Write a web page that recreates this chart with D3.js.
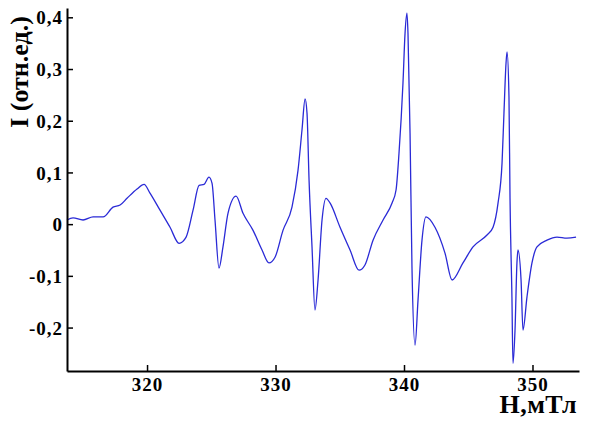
<!DOCTYPE html>
<html><head><meta charset="utf-8">
<script src="https://cdn.jsdelivr.net/npm/d3@7"></script>
<style>body{margin:0;background:#fff}svg{display:block}</style>
</head><body>
<script>
const fieldH = [313.77,314.24,315.02,315.80,316.58,317.35,317.90,318.44,319.22,319.77,320.23,321.01,321.79,322.49,323.04,323.58,324.05,324.44,324.82,325.06,325.29,325.60,325.91,326.30,326.93,327.47,328.25,328.95,329.49,329.96,330.58,331.28,331.75,332.06,332.30,332.45,332.61,332.84,333.07,333.31,333.62,333.93,334.24,335.02,335.80,336.50,336.96,337.59,338.37,339.07,339.38,339.61,339.92,340.08,340.23,340.31,340.47,340.62,340.86,341.09,341.40,341.71,342.41,343.19,343.74,344.59,345.37,346.46,346.93,347.32,347.63,347.78,347.94,348.02,348.17,348.25,348.40,348.48,348.64,348.79,348.87,349.11,349.26,349.57,349.96,350.35,351.13,351.91,352.68,353.39];
const intensity = [0.008,0.012,0.008,0.014,0.014,0.033,0.037,0.050,0.068,0.077,0.060,0.027,-0.006,-0.037,-0.025,0.027,0.075,0.077,0.091,0.079,0.008,-0.085,-0.044,0.021,0.054,0.021,-0.012,-0.050,-0.075,-0.064,-0.012,0.033,0.104,0.182,0.242,0.215,0.085,-0.044,-0.166,-0.108,0.008,0.050,0.041,-0.006,-0.050,-0.089,-0.079,-0.031,0.008,0.041,0.066,0.137,0.273,0.369,0.408,0.369,0.176,-0.083,-0.234,-0.147,-0.031,0.014,-0.006,-0.056,-0.108,-0.075,-0.044,-0.021,-0.006,0.041,0.118,0.215,0.311,0.333,0.246,0.052,-0.141,-0.269,-0.205,-0.075,-0.050,-0.108,-0.205,-0.141,-0.075,-0.044,-0.031,-0.025,-0.027,-0.025];
const xTicks = [320,330,340,350];
const yTicks = [-0.2,-0.1,0,0.1,0.2,0.3,0.4];
const xDomain = [313.77,353.62];
const yDomain = [-0.284,0.418];
const xTitle = "H,мТл";
const yTitle = "I (отн.ед.)";

const W=589,H=422, m={l:67,r:10,t:8,b:51};
const svg=d3.select("body").append("svg").attr("width",W).attr("height",H);
const x=d3.scaleLinear().domain(xDomain).range([m.l,W-m.r]);
const y=d3.scaleLinear().domain(yDomain).range([H-m.b,m.t]);
const font="'Liberation Serif','Times New Roman',serif";

const line=d3.line().x((d,i)=>x(fieldH[i])).y((d,i)=>y(intensity[i])).curve(d3.curveMonotoneX);
svg.append("path").datum(intensity).attr("d",line).attr("fill","none").attr("stroke","#2a2ad6").attr("stroke-width",1.3);

const fmt=v=>v===0?"0":d3.format(".1f")(v).replace(".",",").replace("−","-");
const xa=svg.append("g").attr("transform",`translate(0,${H-m.b})`)
  .call(d3.axisBottom(x).tickValues(xTicks).tickSizeInner(-6).tickSizeOuter(0).tickPadding(7).tickFormat(d3.format("d")));
const ya=svg.append("g").attr("transform",`translate(${m.l},0)`)
  .call(d3.axisLeft(y).tickValues(yTicks).tickSizeInner(-6).tickSizeOuter(0).tickPadding(4).tickFormat(fmt));
[xa,ya].forEach(g=>{
  g.select(".domain").attr("stroke","#000").attr("stroke-width",2);
  g.selectAll(".tick line").attr("stroke","#000").attr("stroke-width",1.5);
  g.selectAll("text").attr("font-family",font).attr("font-weight","bold").attr("font-size",19)
    .attr("letter-spacing","1px").attr("fill","#000");
});
ya.selectAll("text").attr("dy","0.35em");

svg.append("text").attr("x",577).attr("y",413).attr("text-anchor","end")
  .attr("font-family",font).attr("font-weight","bold").attr("font-size",26).attr("letter-spacing","0.5px").text(xTitle);
svg.append("text").attr("transform","translate(28,72) rotate(-90)").attr("text-anchor","middle")
  .attr("font-family",font).attr("font-weight","bold").attr("font-size",26).text(yTitle);
</script>
</body></html>
